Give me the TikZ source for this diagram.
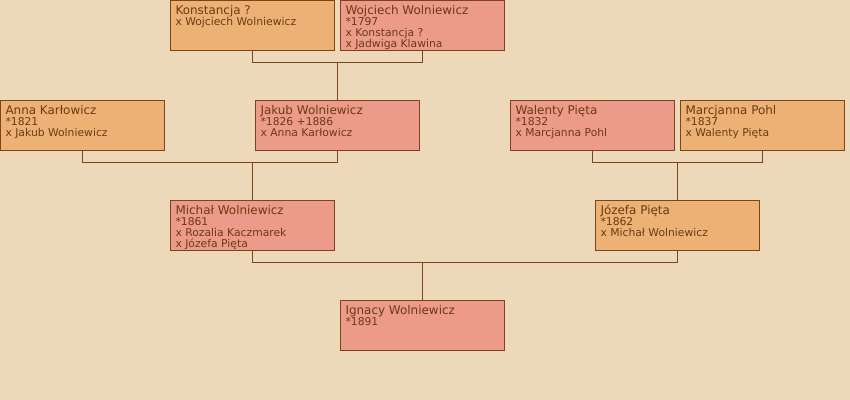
\documentclass[tikz,border=0pt]{standalone}
\usepackage{fontspec}
\setmainfont{DejaVu Sans}
\usetikzlibrary{calc}
\definecolor{paper}{HTML}{EDD8B9}
\definecolor{female}{HTML}{EDB176}
\definecolor{male}{HTML}{EC9B8A}
\definecolor{frame}{HTML}{7B4419}
\definecolor{ink}{HTML}{6A3B13}
\newcommand{\namefont}{\fontsize{10.2}{9.35}\selectfont}
\newcommand{\infofont}{\fontsize{9.2}{9.35}\selectfont}
\newcommand{\card}[2]{\parbox[c][42.5pt][t]{131.8pt}{\infofont\lineskiplimit=-10pt\raggedright
  \rule{0pt}{11.9pt}{\namefont #1}\\{}#2}}

\begin{document}
\begin{tikzpicture}[x=0.03cm, y=-0.03cm,
  person/.style={draw=frame, line width=0.9pt, inner xsep=4.25pt, inner ysep=0pt,
    anchor=north west, text=ink},
  man/.style={person, fill=male},
  woman/.style={person, fill=female},
  link/.style={draw=frame, line width=0.85pt}
]
  \fill[paper] (0,0) rectangle (850,400);
  \useasboundingbox (0,0) rectangle (850,400);

  % Great-grandparents
  \node[woman] (konst) at (170,0) {\card{Konstancja ?}{x Wojciech Wolniewicz}};
  \node[man] (wojc) at (340,0) {\card{Wojciech Wolniewicz}{*1797\\x Konstancja ?\\x Jadwiga Klawina}};

  % Grandparents
  \node[woman] (anna) at (0,100) {\card{Anna Karłowicz}{*1821\\x Jakub Wolniewicz}};
  \node[man] (jakub) at (255,100) {\card{Jakub Wolniewicz}{*1826 +1886\\x Anna Karłowicz}};
  \node[man] (walenty) at (510,100) {\card{Walenty Pięta}{*1832\\x Marcjanna Pohl}};
  \node[woman] (marcj) at (680,100) {\card{Marcjanna Pohl}{*1837\\x Walenty Pięta}};

  % Parents
  \node[man] (michal) at (170,200) {\card{Michał Wolniewicz}{*1861\\x Rozalia Kaczmarek\\x Józefa Pięta}};
  \node[woman] (jozefa) at (595,200) {\card{Józefa Pięta}{*1862\\x Michał Wolniewicz}};

  % Child
  \node[man] (ignacy) at (340,300) {\card{Ignacy Wolniewicz}{*1891}};

  % Family bars
  \coordinate (bar1) at ($(konst.south)+(0,12)$);
  \coordinate (bar2) at ($(anna.south)+(0,12)$);
  \coordinate (bar3) at ($(walenty.south)+(0,12)$);
  \coordinate (bar4) at ($(michal.south)+(0,12)$);

  \draw[link] (konst.south) -- (bar1) -| (wojc.south);
  \draw[link] (jakub.north) -- (jakub.north |- bar1);
  \draw[link] (anna.south) -- (bar2) -| (jakub.south);
  \draw[link] (michal.north) -- (michal.north |- bar2);
  \draw[link] (walenty.south) -- (bar3) -| (marcj.south);
  \draw[link] (jozefa.north) -- (jozefa.north |- bar3);
  \draw[link] (michal.south) -- (bar4) -| (jozefa.south);
  \draw[link] (ignacy.north) -- (ignacy.north |- bar4);
\end{tikzpicture}
\end{document}
